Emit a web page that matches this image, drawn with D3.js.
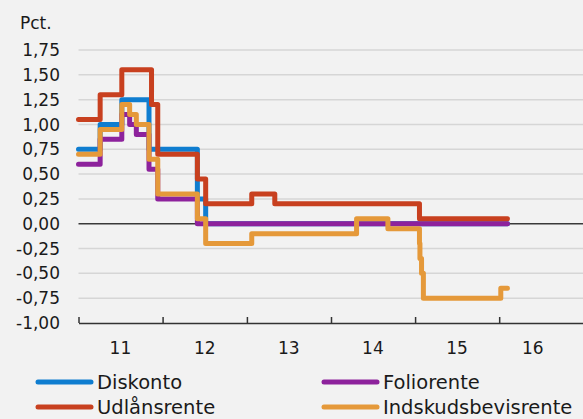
<!DOCTYPE html>
<html>
<head>
<meta charset="utf-8">
<script src="https://cdn.jsdelivr.net/npm/d3@7"></script>
<style>
  body { margin: 0; background: #f2f2f2; }
  svg { display: block; font-family: "DejaVu Sans", sans-serif; }
</style>
</head>
<body>
<div id="chart"></div>
<script>
// change dates for the official rates (value holds until the next date)
var changeDates = ["2011-01-01","2011-04-05","2011-07-08","2011-08-11","2011-09-09",
  "2011-11-03","2011-11-14","2011-12-11","2012-05-31","2012-07-06","2013-01-22",
  "2013-05-02","2014-04-22","2014-09-05","2015-01-20","2015-01-22","2015-01-29",
  "2015-02-06","2016-01-08","2016-02-06"];
var diskonto   = [0.75,1.00,1.25,1.25,1.25,0.75,0.75,0.75,0.25,0.00,0.00,0.00,0.00,0.00,0.00,0.00,0.00,0.00,0.00,0.00];
var foliorente = [0.60,0.85,1.10,1.00,0.90,0.55,0.55,0.25,0.00,0.00,0.00,0.00,0.00,0.00,0.00,0.00,0.00,0.00,0.00,0.00];
var udlaan     = [1.05,1.30,1.55,1.55,1.55,1.55,1.20,0.70,0.45,0.20,0.30,0.20,0.20,0.20,0.05,0.05,0.05,0.05,0.05,0.05];
var indskud    = [0.70,0.95,1.20,1.10,1.00,0.65,0.65,0.30,0.05,-0.20,-0.10,-0.10,0.05,-0.05,-0.20,-0.35,-0.50,-0.75,-0.65,-0.65];

var seriesNames = ["Diskonto","Foliorente","Udlånsrente","Indskudsbevisrente"];
var yTicks = [-1.00,-0.75,-0.50,-0.25,0.00,0.25,0.50,0.75,1.00,1.25,1.50,1.75];
var yearTicks = ["2011","2012","2013","2014","2015","2016"];
var yearLabels = ["11","12","13","14","15","16"];
var yearLabelAt = ["2011-07-02","2012-07-02","2013-07-02","2014-07-02","2015-07-02","2016-05-26"];

var W = 583, H = 419;
var plotLeft = 78.5, plotRight = 583.5, plotTop = 50, plotBottom = 323;
var colors = ["#0f7dd0","#8d229c","#c8401f","#e5993a"];
var parse = d3.timeParse("%Y-%m-%d");
var dates = changeDates.map(parse);

var x = d3.scaleTime().domain([parse("2011-01-01"), parse("2017-01-01")]).range([plotLeft, plotRight]);
var y = d3.scaleLinear().domain([-1, 1.75]).range([plotBottom, plotTop]);

var svg = d3.select("#chart").append("svg").attr("width", W).attr("height", H);

// gridlines
svg.append("g").selectAll("line")
  .data(yTicks.filter(function(d){ return d > -1; }))
  .enter().append("line")
  .attr("x1", plotLeft).attr("x2", plotRight)
  .attr("y1", function(d){ return y(d); }).attr("y2", function(d){ return y(d); })
  .attr("stroke", function(d){ return d === 0 ? "#3a3a3a" : "#d6d6d6"; })
  .attr("stroke-width", 1.5);

// y labels
var fmt = function(d){ return d3.format(".2f")(d).replace(".", ",").replace("−","-"); };
svg.append("g").selectAll("text")
  .data(yTicks).enter().append("text")
  .attr("x", 60).attr("y", function(d){ return y(d); })
  .attr("dy", "0.36em").attr("text-anchor", "end")
  .attr("font-size", 17).attr("fill", "#1a1a1a")
  .text(fmt);

svg.append("text").attr("x", 20).attr("y", 29)
  .attr("font-size", 17).attr("fill", "#1a1a1a").text("Pct.");

// x axis
var xAxis = d3.axisBottom(x)
  .tickValues(yearTicks.map(function(d){ return parse(d + "-01-01"); }))
  .tickSize(-6).tickSizeOuter(0).tickFormat("");
var gx = svg.append("g").attr("transform", "translate(0," + plotBottom + ")").call(xAxis);
gx.select(".domain").attr("stroke", "#333").attr("stroke-width", 1.5);
gx.selectAll(".tick line").attr("stroke", "#333").attr("stroke-width", 1.5);

svg.append("g").selectAll("text")
  .data(yearLabels).enter().append("text")
  .attr("x", function(d, i){ return x(parse(yearLabelAt[i])); })
  .attr("y", 354).attr("text-anchor", "middle")
  .attr("font-size", 17).attr("fill", "#1a1a1a")
  .text(function(d){ return d; });

// lines
var allSeries = [diskonto, foliorente, udlaan, indskud];
var line = d3.line()
  .x(function(d){ return x(d[0]); })
  .y(function(d){ return y(d[1]); })
  .curve(d3.curveStepAfter);

allSeries.forEach(function(vals, i){
  var pts = dates.map(function(d, j){ return [d, vals[j]]; });
  svg.append("path")
    .datum(pts)
    .attr("d", line)
    .attr("fill", "none")
    .attr("stroke", colors[i])
    .attr("stroke-width", 5)
    .attr("stroke-linejoin", "round")
    .attr("stroke-linecap", "round");
});

// legend
var legPos = [[38,382],[324,382],[38,407],[324,407]];
seriesNames.forEach(function(name, i){
  var g = svg.append("g").attr("transform", "translate(" + legPos[i][0] + "," + legPos[i][1] + ")");
  g.append("line").attr("x1", 0).attr("x2", 53)
    .attr("stroke", colors[i]).attr("stroke-width", 5).attr("stroke-linecap", "round");
  g.append("text").attr("x", 59).attr("dy", "0.36em")
    .attr("font-size", 19.5).attr("fill", "#1a1a1a").text(name);
});
</script>
</body>
</html>
